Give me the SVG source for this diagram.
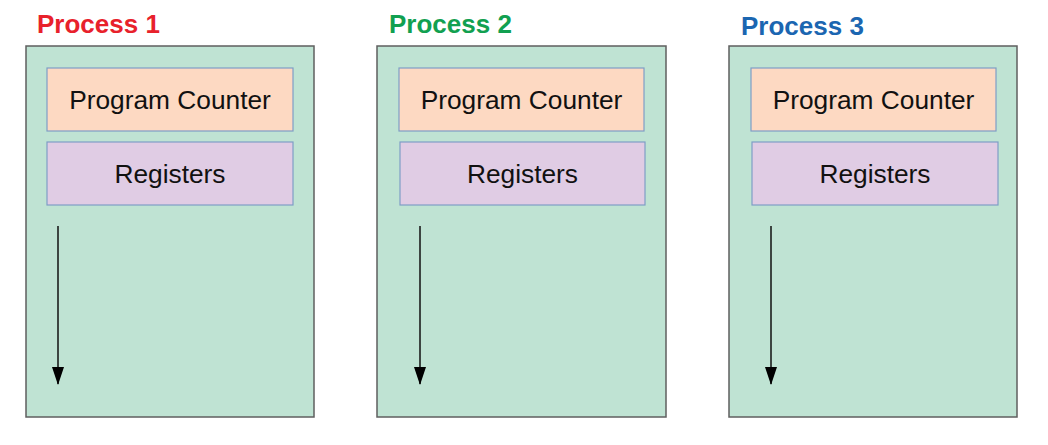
<svg xmlns="http://www.w3.org/2000/svg" width="1048" height="445" viewBox="0 0 1048 445">
<defs>
<style>
.proc{fill:#bfe3d3;stroke:#5f5f5f;stroke-width:1.5}
.pc{fill:#fdd9c2;stroke:#7f9dc6;stroke-width:1.2}
.reg{fill:#e0cce4;stroke:#7f9dc6;stroke-width:1.2}
.lbl{font-family:"Liberation Sans",Arial,sans-serif;font-size:26.3px;fill:#111;text-anchor:middle}
.title{font-family:"Liberation Sans",Arial,sans-serif;font-size:26px;font-weight:bold}
.conn{stroke:#111;stroke-width:1.5;fill:none;marker-end:url(#ah)}
</style>
<marker id="ah" markerWidth="18" markerHeight="12" refX="17" refY="6" orient="auto" markerUnits="userSpaceOnUse" viewBox="0 0 18 12">
<path d="M0,0 L18,6 L0,12 Z" fill="#000"/>
</marker>
</defs>
<rect width="1048" height="445" fill="#fff"/>
<g id="process1">
<text class="title" x="37" y="33" fill="#e8212b">Process 1</text>
<rect class="proc" x="26" y="46" width="288" height="371"/>
<g id="pc1"><rect class="pc" x="47" y="68" width="246" height="63"/><text class="lbl" x="170" y="109">Program Counter</text></g>
<g id="reg1"><rect class="reg" x="47" y="142" width="246" height="63"/><text class="lbl" x="170" y="183">Registers</text></g>
</g>
<g id="process2">
<text class="title" x="389" y="33" fill="#11a050">Process 2</text>
<rect class="proc" x="377" y="46" width="289" height="371"/>
<g id="pc2"><rect class="pc" x="399" y="68" width="245" height="63"/><text class="lbl" x="521.5" y="109">Program Counter</text></g>
<g id="reg2"><rect class="reg" x="400" y="142" width="245" height="63"/><text class="lbl" x="522.5" y="183">Registers</text></g>
</g>
<g id="process3">
<text class="title" x="741" y="35" fill="#1b66b1">Process 3</text>
<rect class="proc" x="729" y="46" width="288" height="371"/>
<g id="pc3"><rect class="pc" x="751" y="68" width="245" height="63"/><text class="lbl" x="873.5" y="109">Program Counter</text></g>
<g id="reg3"><rect class="reg" x="752" y="142" width="246" height="63"/><text class="lbl" x="875" y="183">Registers</text></g>
</g>
<g id="connectors">
<line class="conn" x1="58" y1="226" x2="58" y2="384"/>
<line class="conn" x1="420" y1="226" x2="420" y2="384"/>
<line class="conn" x1="771" y1="226" x2="771" y2="384"/>
</g>
</svg>
